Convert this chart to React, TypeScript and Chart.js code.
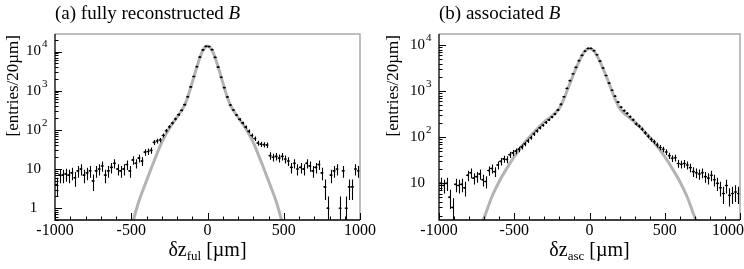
import React, { useEffect, useRef } from "react";
import { Chart, registerables } from "chart.js";

Chart.register(...registerables);

// ---------------- data ----------------
const BIN_CENTERS = [
  -990, -970, -950, -930, -910, -890, -870, -850, -830, -810,
  -790, -770, -750, -730, -710, -690, -670, -650, -630, -610,
  -590, -570, -550, -530, -510, -490, -470, -450, -430, -410,
  -390, -370, -350, -330, -310, -290, -270, -250, -230, -210,
  -190, -170, -150, -130, -110, -90, -70, -50, -30, -10,
  10, 30, 50, 70, 90, 110, 130, 150, 170, 190,
  210, 230, 250, 270, 290, 310, 330, 350, 370, 390,
  410, 430, 450, 470, 490, 510, 530, 550, 570, 590,
  610, 630, 650, 670, 690, 710, 730, 750, 770, 790,
  810, 830, 850, 870, 890, 910, 930, 950, 970, 990,
];
const BIN_HALF_WIDTH = 10;

// (a) fully reconstructed B
const FUL_COUNTS = [
  4, 7, 7, 7.5, 7, 8, 6, 9, 10, 7,
  8, 9, 5, 9, 10, 12, 7, 9, 11, 14,
  10, 9, 10, 13, 9, 17, 14, 19, 16, 27,
  28, 30, 48, 52, 55, 72, 95, 120, 150, 190,
  245, 315, 440, 700, 1250, 2300, 4100, 7200, 11000, 13500,
  13400, 11200, 7100, 4000, 2200, 1200, 690, 430, 320, 240,
  185, 150, 118, 92, 72, 60, 46, 43, 42, 41,
  22, 20, 21, 19, 21, 18, 16, 11, 14, 10,
  11, 10, 14, 12, 9, 11, 13, 8, 3.5, 1,
  7, 9, 10, 1, 9, 1, 3.5, 3.5, 10, 9,
];
const FUL_FIT_X = [-500, -480, -450, -400, -350, -300, -250, -200, -150, -130, -110, -90, -70, -50, -30, -15, 0,
  15, 30, 50, 70, 90, 110, 130, 150, 200, 250, 300, 350, 400, 450, 480, 500];
const FUL_FIT_Y = [0.3, 0.6, 1.5, 5, 16, 48, 110, 210, 430, 680, 1200, 2200, 4000, 7000, 10800, 13000, 13900,
  13000, 10800, 7000, 4000, 2200, 1200, 680, 430, 210, 110, 48, 16, 5, 1.5, 0.6, 0.3];

// (b) associated B
const ASC_COUNTS = [
  10, 9, 10, 5, 3, 9.5, 9, 9.5, 8, 15,
  17, 13, 14, 16, 12, 11, 19, 21, 18, 25,
  30, 34, 33, 42, 46, 50, 55, 62, 72, 84,
  98, 118, 138, 160, 182, 210, 240, 275, 320, 390,
  520, 760, 1150, 1700, 2400, 3300, 4600, 6000, 7400, 8500,
  8500, 7600, 6200, 4500, 3200, 2200, 1500, 1050, 780, 580,
  450, 380, 330, 280, 240, 195, 175, 150, 125, 105,
  90, 80, 68, 60, 55, 48, 40, 35, 36, 27,
  26, 27, 25, 22, 18, 17, 16, 17, 14, 13,
  15, 12, 10, 8, 6, 9, 5.5, 6, 6.5, 6,
];
const ASC_FIT_X = [-740, -700, -650, -600, -550, -500, -450, -400, -350, -300, -250, -200, -170, -150, -120, -100, -80, -60, -40, -20, 0,
  20, 40, 60, 80, 100, 120, 150, 170, 200, 250, 300, 350, 400, 450, 500, 550, 600, 650, 700, 740];
const ASC_FIT_Y = [0.9, 1.8, 5, 11, 21, 38, 64, 100, 150, 215, 290, 430, 680, 1000, 1800, 2600, 3700, 5100, 6700, 8000, 8500,
  8000, 6700, 5100, 3700, 2600, 1800, 1000, 680, 430, 290, 215, 150, 100, 64, 38, 21, 11, 5, 1.8, 0.9];

const X_TICKS = [-1000, -500, 0, 500, 1000];
const X_TICK_LABELS = ["-1000", "-500", "0", "500", "1000"];
const FUL_Y_TICKS = [1, 10, 100, 1000, 10000];
const FUL_Y_TICK_BASES = ["1", "10", "10", "10", "10"];
const FUL_Y_TICK_EXPS = ["", "", "2", "3", "4"];
const ASC_Y_TICKS = [10, 100, 1000, 10000];
const ASC_Y_TICK_BASES = ["10", "10", "10", "10"];
const ASC_Y_TICK_EXPS = ["", "2", "3", "4"];

// ---------------- styling ----------------
const SERIF = '"Liberation Serif", "Times New Roman", serif';
const FRAME_COLOR = "#a9a9a9";
const FIT_COLOR = "#b3b3b3";
const X_MINOR_STEP = 100;

type PanelCfg = {
  left: number;
  width: number;
  padding: { left: number; right: number; top: number; bottom: number };
  title: string;
  sub: string;
  counts: number[];
  fitX: number[];
  fitY: number[];
  yMin: number;
  yMax: number;
  yTicks: number[];
  yBases: string[];
  yExps: string[];
  yTitleX: number;
};

const PANELS: PanelCfg[] = [
  {
    left: 0,
    width: 380,
    padding: { left: 55, right: 20, top: 34, bottom: 49 },
    title: "(a) fully reconstructed ",
    sub: "ful",
    counts: FUL_COUNTS,
    fitX: FUL_FIT_X,
    fitY: FUL_FIT_Y,
    yMin: 0.5,
    yMax: 28000,
    yTicks: FUL_Y_TICKS,
    yBases: FUL_Y_TICK_BASES,
    yExps: FUL_Y_TICK_EXPS,
    yTitleX: 14,
  },
  {
    left: 372,
    width: 372,
    padding: { left: 67, right: 2, top: 34, bottom: 49 },
    title: "(b) associated ",
    sub: "asc",
    counts: ASC_COUNTS,
    fitX: ASC_FIT_X,
    fitY: ASC_FIT_Y,
    yMin: 1.6,
    yMax: 17500,
    yTicks: ASC_Y_TICKS,
    yBases: ASC_Y_TICK_BASES,
    yExps: ASC_Y_TICK_EXPS,
    yTitleX: 22,
  },
];

function makeErrorBarPlugin(cfg: PanelCfg) {
  return {
    id: "errorBars",
    afterDatasetsDraw(chart: any) {
      const { ctx, chartArea: a } = chart;
      const xs = chart.scales.x;
      const ys = chart.scales.y;
      ctx.save();
      ctx.beginPath();
      ctx.rect(a.left, a.top, a.right - a.left, a.bottom - a.top);
      ctx.clip();
      ctx.strokeStyle = "#000";
      ctx.lineWidth = 1.1;
      cfg.counts.forEach((n, i) => {
        const c = BIN_CENTERS[i];
        const x0 = xs.getPixelForValue(c - BIN_HALF_WIDTH);
        const x1 = xs.getPixelForValue(c + BIN_HALF_WIDTH);
        const xc = Math.round(xs.getPixelForValue(c)) + 0.5;
        const yc = ys.getPixelForValue(n);
        const err = Math.sqrt(n);
        const lo = n - err > ys.min ? ys.getPixelForValue(n - err) : a.bottom + 2;
        const hi = ys.getPixelForValue(n + err);
        ctx.beginPath();
        ctx.moveTo(x0, yc);
        ctx.lineTo(x1, yc);
        ctx.moveTo(xc, lo);
        ctx.lineTo(xc, hi);
        ctx.stroke();
      });
      ctx.restore();
    },
  };
}

function makeDecorPlugin(cfg: PanelCfg) {
  return {
    id: "decor",
    afterDraw(chart: any) {
      const { ctx, chartArea: a } = chart;
      const xs = chart.scales.x;
      const ys = chart.scales.y;
      ctx.save();
      // frame (top/right)
      ctx.strokeStyle = FRAME_COLOR;
      ctx.lineWidth = 1.5;
      ctx.beginPath();
      ctx.moveTo(a.left, a.top);
      ctx.lineTo(a.right, a.top);
      ctx.lineTo(a.right, a.bottom);
      ctx.stroke();
      // axes
      ctx.strokeStyle = "#000";
      ctx.lineWidth = 1.3;
      ctx.beginPath();
      ctx.moveTo(a.left, a.top);
      ctx.lineTo(a.left, a.bottom);
      ctx.lineTo(a.right, a.bottom);
      ctx.stroke();
      // x ticks
      ctx.lineWidth = 1;
      for (let v = xs.min; v <= xs.max; v += X_MINOR_STEP) {
        const px = Math.round(xs.getPixelForValue(v)) + 0.5;
        const len = X_TICKS.includes(v) ? 7 : 3.5;
        ctx.beginPath();
        ctx.moveTo(px, a.bottom);
        ctx.lineTo(px, a.bottom - len);
        ctx.stroke();
      }
      // y ticks
      for (let k = -1; k <= 4; k++) {
        for (let m = 1; m <= 9; m++) {
          const v = m * Math.pow(10, k);
          if (v < ys.min || v > ys.max) continue;
          const py = Math.round(ys.getPixelForValue(v)) + 0.5;
          const len = m === 1 ? 7 : 3.5;
          ctx.beginPath();
          ctx.moveTo(a.left, py);
          ctx.lineTo(a.left + len, py);
          ctx.stroke();
        }
      }
      // x tick labels
      ctx.fillStyle = "#000";
      ctx.font = `16px ${SERIF}`;
      ctx.textAlign = "center";
      ctx.textBaseline = "middle";
      const cw = chart.width;
      X_TICKS.forEach((v, i) => {
        const label = X_TICK_LABELS[i];
        const w = ctx.measureText(label).width;
        let px = xs.getPixelForValue(v);
        if (px + w / 2 > cw) px = cw - w / 2;
        ctx.fillText(label, px, a.bottom + 11);
      });
      // y tick labels
      cfg.yTicks.forEach((v, i) => {
        const py = ys.getPixelForValue(v);
        const cx = a.left - 21.5;
        ctx.font = `15px ${SERIF}`;
        ctx.textAlign = "center";
        ctx.textBaseline = "middle";
        const base = cfg.yBases[i];
        ctx.fillText(base, cx, py);
        const exp = cfg.yExps[i];
        if (exp) {
          const bw = ctx.measureText(base).width;
          ctx.font = `11px ${SERIF}`;
          ctx.textAlign = "left";
          ctx.fillText(exp, cx + bw / 2 + 1, py - 7);
        }
      });
      // y title
      ctx.save();
      ctx.translate(cfg.yTitleX, a.top + 1);
      ctx.rotate(-Math.PI / 2);
      ctx.font = `17px ${SERIF}`;
      ctx.textAlign = "right";
      ctx.textBaseline = "middle";
      ctx.fillText("[entries/20µm]", 0, 0);
      ctx.restore();
      // x title
      {
        ctx.textBaseline = "alphabetic";
        ctx.textAlign = "left";
        const big = `20px ${SERIF}`;
        const small = `13px ${SERIF}`;
        ctx.font = big;
        const w1 = ctx.measureText("δz").width;
        const w3 = ctx.measureText(" [µm]").width;
        ctx.font = small;
        const w2 = ctx.measureText(cfg.sub).width;
        const total = w1 + w2 + w3;
        let x = (a.left + a.right) / 2 - total / 2;
        const by = a.bottom + 36;
        ctx.font = big;
        ctx.fillText("δz", x, by);
        x += w1;
        ctx.font = small;
        ctx.fillText(cfg.sub, x, by + 4);
        x += w2;
        ctx.font = big;
        ctx.fillText(" [µm]", x, by);
      }
      // panel title
      {
        ctx.textBaseline = "alphabetic";
        ctx.textAlign = "left";
        ctx.font = `19px ${SERIF}`;
        const tx = a.left;
        ctx.fillText(cfg.title, tx, 19);
        const tw = ctx.measureText(cfg.title).width;
        ctx.font = `italic 19px ${SERIF}`;
        ctx.fillText("B", tx + tw, 19);
      }
      ctx.restore();
    },
  };
}

function Panel({ cfg }: { cfg: PanelCfg }) {
  const ref = useRef<HTMLCanvasElement>(null);
  useEffect(() => {
    const canvas = ref.current!;
    const chart = new Chart(canvas, {
      type: "scatter",
      data: {
        datasets: [
          {
            data: BIN_CENTERS.map((x, i) => ({ x, y: cfg.counts[i] })),
            pointStyle: "rect",
            pointRadius: 1.2,
            backgroundColor: "#000",
            borderWidth: 0,
            showLine: false,
          },
          {
            data: cfg.fitX.map((x, i) => ({ x, y: cfg.fitY[i] })),
            showLine: true,
            borderColor: FIT_COLOR,
            borderWidth: 3,
            pointRadius: 0,
            cubicInterpolationMode: "monotone",
            fill: false,
          } as any,
        ],
      },
      options: {
        responsive: false,
        animation: false,
        devicePixelRatio: 1,
        events: [],
        layout: { padding: cfg.padding },
        plugins: { legend: { display: false }, tooltip: { enabled: false } },
        scales: {
          x: { type: "linear", min: -1000, max: 1000, display: false },
          y: { type: "logarithmic", min: cfg.yMin, max: cfg.yMax, display: false },
        },
      },
      plugins: [makeErrorBarPlugin(cfg), makeDecorPlugin(cfg)],
    });
    return () => chart.destroy();
  }, [cfg]);
  return (
    <canvas
      ref={ref}
      width={cfg.width}
      height={269}
      style={{ position: "absolute", left: cfg.left, top: 0, width: cfg.width, height: 269 }}
    />
  );
}

export default function App() {
  return (
    <div style={{ position: "absolute", left: 0, top: 0, width: 744, height: 269, background: "#fff", overflow: "hidden" }}>
      {PANELS.map((p, i) => (
        <Panel key={i} cfg={p} />
      ))}
    </div>
  );
}
